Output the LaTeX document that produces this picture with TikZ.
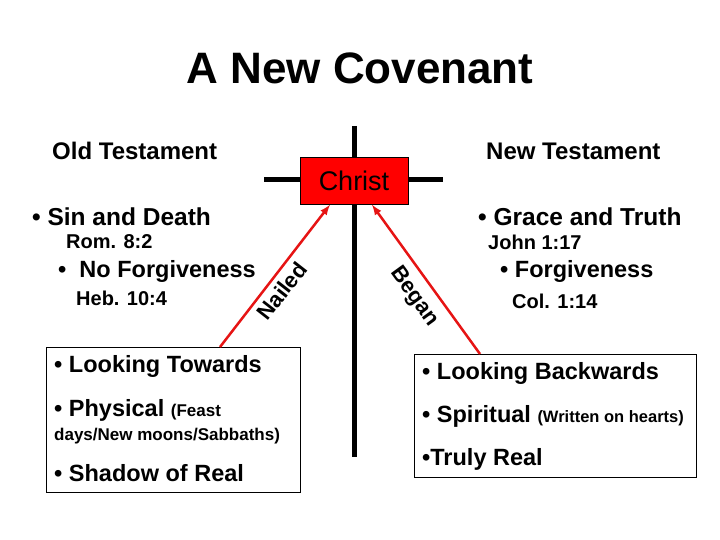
\documentclass[tikz,border=0pt]{standalone}
\usepackage{fontspec}
\setmainfont{Liberation Sans}
\definecolor{christRed}{RGB}{255, 0, 0}
\definecolor{arrowRed}{RGB}{230, 20, 20}
\begin{document}
\begin{tikzpicture}[x=1pt, y=-1pt]
            \tikzstyle{txt} = [anchor=west, inner sep=0pt, font=\bfseries\fontsize{23.5}{28}\selectfont]
            \tikzstyle{ref} = [anchor=west, inner sep=0pt, font=\bfseries\fontsize{20}{24}\selectfont]
            \tikzstyle{panel} = [draw=black, fill=white, thin]
            \tikzstyle{arrow} = [->, >=latex, line width=2.5pt, arrowRed]
            \useasboundingbox (0,0) rectangle (720,540);

            % Title and headings
            \node[font=\bfseries\fontsize{44}{50}\selectfont] (title) at (360,68) {A New Covenant};
            \node[txt, font=\bfseries\fontsize{24}{28}\selectfont] (old) at (52,151) {Old Testament};
            \node[txt, font=\bfseries\fontsize{24}{28}\selectfont] (new) at (486,151) {New Testament};

            % Cross
            \draw[line width=5pt] (354,126) -- (354,457);
            \draw[line width=5pt] (264,180) -- (443,180);
            \node[draw=black, fill=christRed, minimum width=108pt, minimum height=47pt, font=\fontsize{27}{30}\selectfont] (christ) at (354,181) {Christ};

            % Old side
            \node[txt, font=\bfseries\fontsize{24.5}{28}\selectfont] (sin) at (32,217) {\textbullet\ Sin and Death};
            \node[ref] (rom) at (66,242) {Rom. 8:2};
            \node[txt] (nof) at (58,271) {\textbullet\ \ No Forgiveness};
            \node[ref] (heb) at (76,298) {Heb. 10:4};

            % New side
            \node[txt, font=\bfseries\fontsize{24.5}{28}\selectfont] (grace) at (478,217) {\textbullet\ Grace and Truth};
            \node[ref] (john) at (488,242) {John 1:17};
            \node[txt] (forg) at (500,271) {\textbullet\ Forgiveness};
            \node[ref] (col) at (512,301) {Col. 1:14};

            % Panels
            \draw[panel] (46,347) rectangle (300,492);
            \coordinate (oldtop) at (220,347);
            \node[txt] (look1) at (54,366) {\textbullet\ Looking Towards};
            \node[txt] (phys) at (54,410) {\textbullet\ Physical {\fontsize{17}{20}\selectfont(Feast}};
            \node[ref, font=\bfseries\fontsize{17}{20}\selectfont] (days) at (54,436) {days/New moons/Sabbaths)};
            \node[txt] (shadow) at (54,473) {\textbullet\ Shadow of Real};

            \draw[panel] (414,354) rectangle (696,477);
            \coordinate (newtop) at (480,354);
            \node[txt] (look2) at (422,373) {\textbullet\ Looking Backwards};
            \node[txt] (spir) at (422,416) {\textbullet\ Spiritual {\fontsize{16.5}{20}\selectfont(Written on hearts)}};
            \node[txt] (truly) at (422,459) {\textbullet Truly Real};

            % Arrows
            \draw[arrow] (oldtop) -- (christ.south west -| 330,0);
            \draw[arrow] (newtop) -- (christ.south east -| 372,0);
            \node[font=\bfseries\fontsize{22}{26}\selectfont, rotate=52, inner sep=0pt] (nailed) at (282,291) {Nailed};
            \node[font=\bfseries\fontsize{22}{26}\selectfont, rotate=-54, inner sep=0pt] (began) at (414,297) {Began};
        \end{tikzpicture}
\end{document}
